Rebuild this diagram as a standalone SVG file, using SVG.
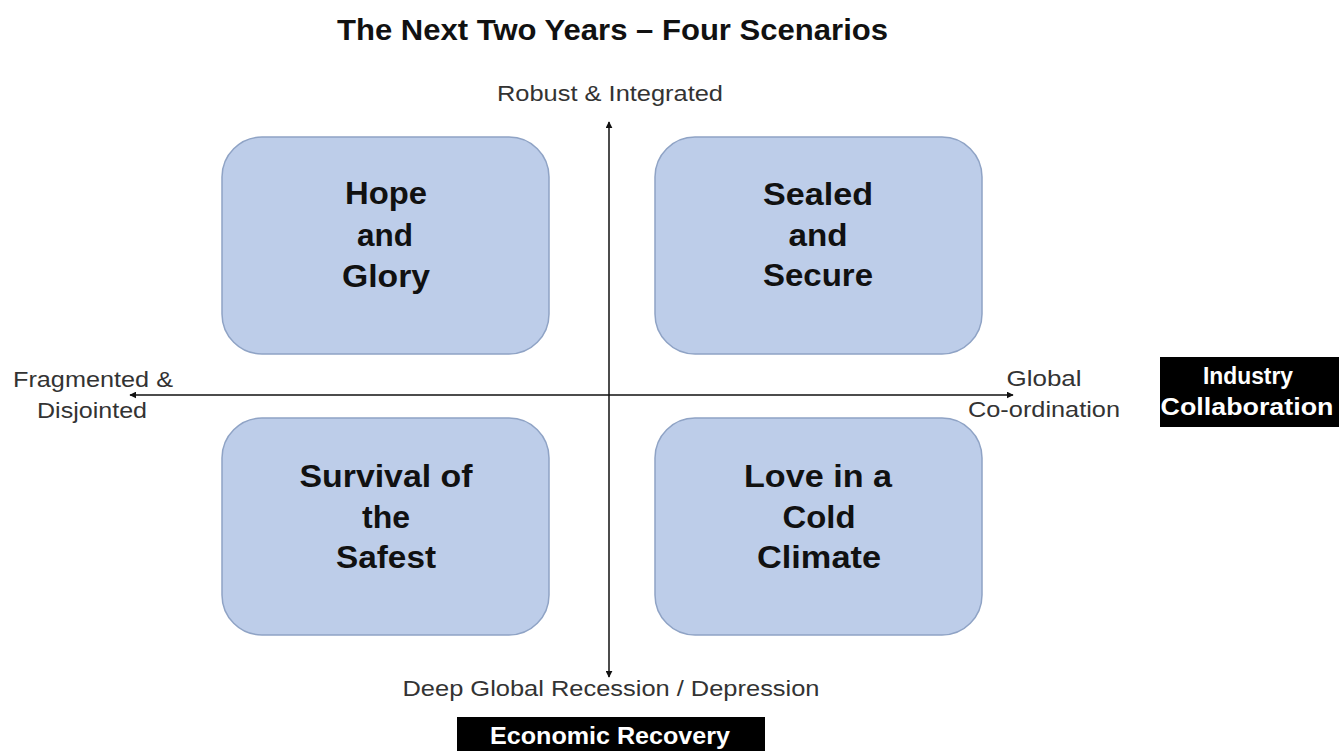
<svg xmlns="http://www.w3.org/2000/svg" width="1339" height="751" viewBox="0 0 1339 751">
<style>
text{font-family:"Liberation Sans",Arial,sans-serif;text-anchor:middle}
.box{fill:#bdcde9;stroke:#8fa3c5;stroke-width:1.5}
.bt{font-weight:bold;font-size:32px;fill:#111}
.lab{font-size:22px;fill:#333}
.wt{font-weight:bold;font-size:23px;fill:#fff}
.ax{stroke:#111;stroke-width:1.5;fill:none}
</style>
<defs>
<marker id="ah" viewBox="0 0 10 10" refX="9" refY="5" markerWidth="7" markerHeight="7" markerUnits="userSpaceOnUse" orient="auto">
<path d="M0,0 L10,5 L0,10 z" fill="#111"/>
</marker>
</defs>
<rect width="1339" height="751" fill="#fff"/>
<text x="612.5" y="40" font-weight="bold" font-size="29" fill="#111" textLength="551" lengthAdjust="spacingAndGlyphs">The Next Two Years – Four Scenarios</text>
<g id="connectors">
<line class="ax" x1="609" y1="395" x2="609" y2="122" marker-end="url(#ah)"/>
<line class="ax" x1="609" y1="395" x2="609" y2="677" marker-end="url(#ah)"/>
<line class="ax" x1="609" y1="395" x2="130" y2="395" marker-end="url(#ah)"/>
<line class="ax" x1="609" y1="395" x2="1013" y2="395" marker-end="url(#ah)"/>
</g>
<g id="hope">
<rect class="box" x="222" y="137" width="327" height="217" rx="40"/>
<text class="bt" x="386" y="204" textLength="82" lengthAdjust="spacingAndGlyphs">Hope</text>
<text class="bt" x="385" y="246" textLength="56" lengthAdjust="spacingAndGlyphs">and</text>
<text class="bt" x="386" y="287" textLength="88" lengthAdjust="spacingAndGlyphs">Glory</text>
</g>
<g id="sealed">
<rect class="box" x="655" y="137" width="327" height="217" rx="40"/>
<text class="bt" x="818" y="205" textLength="110" lengthAdjust="spacingAndGlyphs">Sealed</text>
<text class="bt" x="818" y="246" textLength="59" lengthAdjust="spacingAndGlyphs">and</text>
<text class="bt" x="818" y="286" textLength="110" lengthAdjust="spacingAndGlyphs">Secure</text>
</g>
<g id="survival">
<rect class="box" x="222" y="418" width="327" height="217" rx="40"/>
<text class="bt" x="386" y="487" textLength="173" lengthAdjust="spacingAndGlyphs">Survival of</text>
<text class="bt" x="386" y="528" textLength="48" lengthAdjust="spacingAndGlyphs">the</text>
<text class="bt" x="386" y="568" textLength="100" lengthAdjust="spacingAndGlyphs">Safest</text>
</g>
<g id="love">
<rect class="box" x="655" y="418" width="327" height="217" rx="40"/>
<text class="bt" x="818" y="487" textLength="148" lengthAdjust="spacingAndGlyphs">Love in a</text>
<text class="bt" x="819" y="528" textLength="73" lengthAdjust="spacingAndGlyphs">Cold</text>
<text class="bt" x="819" y="568" textLength="124" lengthAdjust="spacingAndGlyphs">Climate</text>
</g>
<g id="top-label"><text class="lab" x="610" y="101" textLength="226" lengthAdjust="spacingAndGlyphs">Robust &amp; Integrated</text></g>
<g id="left-label">
<text class="lab" x="93" y="387" textLength="160" lengthAdjust="spacingAndGlyphs">Fragmented &amp;</text>
<text class="lab" x="92" y="418" textLength="110" lengthAdjust="spacingAndGlyphs">Disjointed</text>
</g>
<g id="right-label">
<text class="lab" x="1044" y="386" textLength="75" lengthAdjust="spacingAndGlyphs">Global</text>
<text class="lab" x="1044" y="417" textLength="152" lengthAdjust="spacingAndGlyphs">Co-ordination</text>
</g>
<g id="bottom-label"><text class="lab" x="611" y="696" textLength="417" lengthAdjust="spacingAndGlyphs">Deep Global Recession / Depression</text></g>
<g id="industry">
<rect x="1160" y="357" width="179" height="70" fill="#000"/>
<text class="wt" x="1248" y="384" textLength="90" lengthAdjust="spacingAndGlyphs">Industry</text>
<text class="wt" x="1247" y="415" textLength="173" lengthAdjust="spacingAndGlyphs">Collaboration</text>
</g>
<g id="economic">
<rect x="457" y="717" width="308" height="34" fill="#000"/>
<text class="wt" x="610" y="744" textLength="240" lengthAdjust="spacingAndGlyphs">Economic Recovery</text>
</g>
</svg>
